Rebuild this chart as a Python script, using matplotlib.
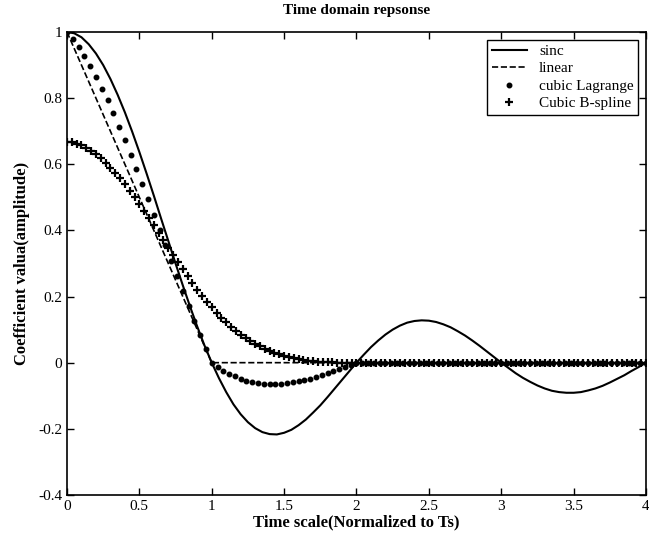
import numpy as np
import matplotlib.pyplot as plt

plt.rcParams['font.family'] = ['Liberation Serif', 'DejaVu Serif']

# sinc, sampled every 0.05 from 0 to 4
sinc_y = [1.000, 0.996, 0.984, 0.963, 0.935, 0.900, 0.858, 0.810, 0.757, 0.699,
          0.637, 0.572, 0.505, 0.436, 0.368, 0.300, 0.234, 0.170, 0.109, 0.052,
          0.000, -0.047, -0.089, -0.126, -0.156, -0.180, -0.198, -0.210, -0.216, -0.217,
          -0.212, -0.203, -0.189, -0.172, -0.151, -0.129, -0.104, -0.078, -0.052, -0.026,
          0.000, 0.024, 0.047, 0.067, 0.085, 0.100, 0.112, 0.121, 0.126, 0.128,
          0.127, 0.123, 0.116, 0.107, 0.095, 0.082, 0.067, 0.051, 0.034, 0.017,
          0.000, -0.016, -0.032, -0.046, -0.058, -0.069, -0.078, -0.085, -0.089, -0.091,
          -0.091, -0.089, -0.084, -0.078, -0.070, -0.060, -0.049, -0.038, -0.025, -0.013,
          0.000]

# linear interpolation kernel (corner points)
linear_x = [0, 1, 4]
linear_y = [1, 0, 0]

# cubic Lagrange, sampled every 0.04 from 0 to 4
lagrange_y = [1.000, 0.978, 0.954, 0.926, 0.896, 0.864, 0.829, 0.793, 0.754, 0.714,
              0.672, 0.629, 0.585, 0.540, 0.494, 0.448, 0.401, 0.355, 0.308, 0.262,
              0.216, 0.171, 0.126, 0.083, 0.041, 0.000,
              -0.013, -0.024, -0.033, -0.041, -0.048, -0.054, -0.058, -0.061, -0.063, -0.064,
              -0.064, -0.063, -0.062, -0.059, -0.056, -0.052, -0.048, -0.043, -0.038, -0.032,
              -0.026, -0.020, -0.013, -0.007, 0.000] + [0.0] * 50

# cubic B-spline, sampled every 1/30 from 0 to 4
bspline_y = [0.667, 0.666, 0.662, 0.657, 0.650, 0.641, 0.631, 0.619, 0.605, 0.590,
             0.574, 0.557, 0.539, 0.520, 0.500, 0.479, 0.458, 0.437, 0.415, 0.393,
             0.370, 0.348, 0.326, 0.304, 0.283, 0.262, 0.241, 0.221, 0.202, 0.184,
             0.167, 0.151, 0.136, 0.122, 0.108, 0.096, 0.085, 0.075, 0.066, 0.057,
             0.049, 0.042, 0.036, 0.030, 0.025, 0.021, 0.017, 0.014, 0.011, 0.008,
             0.006, 0.005, 0.003, 0.002, 0.001, 0.001, 0.000, 0.000, 0.000, 0.000,
             0.000] + [0.0] * 60

xticks = [0, 0.5, 1, 1.5, 2, 2.5, 3, 3.5, 4]
xtick_labels = ['0', '0.5', '1', '1.5', '2', '2.5', '3', '3.5', '4']
yticks = [-0.4, -0.2, 0, 0.2, 0.4, 0.6, 0.8, 1]
ytick_labels = ['-0.4', '-0.2', '0', '0.2', '0.4', '0.6', '0.8', '1']

sinc_x = np.linspace(0, 4, len(sinc_y))
lagrange_x = np.linspace(0, 4, len(lagrange_y))
bspline_x = np.linspace(0, 4, len(bspline_y))

fig = plt.figure(figsize=(6.49, 5.38), dpi=100)
ax = fig.add_axes([0.1032, 0.080, 0.8922, 0.8606])

ax.plot(sinc_x, sinc_y, 'k-', lw=1.5, label='sinc')
ax.plot(linear_x, linear_y, 'k--', lw=1.2, label='linear')
ax.plot(lagrange_x, lagrange_y, 'k.', ms=6.5, label='cubic Lagrange')
ax.plot(bspline_x, bspline_y, 'k+', ms=6, mew=1.6, label='Cubic B-spline')

ax.set_xlim(0, 4)
ax.set_ylim(-0.4, 1)
ax.set_xticks(xticks)
ax.set_xticklabels(xtick_labels)
ax.set_yticks(yticks)
ax.set_yticklabels(ytick_labels)
ax.tick_params(direction='in', top=True, right=True, labelsize=11, length=5, width=1)
for s in ax.spines.values():
    s.set_linewidth(1.2)

ax.set_title('Time domain repsonse', fontsize=11, fontweight='bold', pad=13)
ax.set_xlabel('Time scale(Normalized to Ts)', fontsize=12, fontweight='bold', labelpad=1)
ax.set_ylabel('Coefficient valua(amplitude)', fontsize=12, fontweight='bold', labelpad=6)

leg = ax.legend(loc='upper right', fontsize=11, fancybox=False, framealpha=1,
                edgecolor='black', borderaxespad=0.5, handlelength=2.3,
                borderpad=0.3, labelspacing=0.25)
leg.get_frame().set_linewidth(1.0)

fig.savefig('out.png', dpi=100)
